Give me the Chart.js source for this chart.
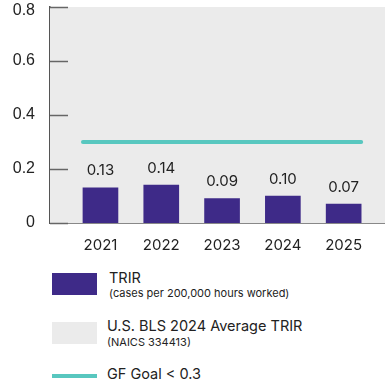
<!DOCTYPE html>
<html>
<head>
<meta charset="utf-8">
<script src="https://cdn.jsdelivr.net/npm/chart.js@4"></script>
<style>
  html, body { margin: 0; padding: 0; background: #fff; }
  #wrap { position: relative; width: 385px; height: 385px; overflow: hidden; font-family: Inter, "Noto Sans", sans-serif; color: #222; }
  #chartBox { position: absolute; left: 0; top: 0; width: 385px; height: 260px; }
  .sw { position: absolute; left: 52px; width: 45px; }
  .lbl { position: absolute; white-space: nowrap; line-height: 1; }
  .big { font-size: 14.5px; }
  .small { font-size: 11px; }
</style>
</head>
<body>
<div id="wrap">
  <div id="chartBox"><canvas id="trirChart" width="385" height="260"></canvas></div>

  <div class="sw" style="top:273px;height:22px;background:#3e2a88"></div>
  <div class="lbl big" style="left:109px;top:271px">TRIR</div>
  <div class="lbl small" style="left:109px;top:288px">(cases per 200,000 hours worked)</div>

  <div class="sw" style="top:322px;height:22px;background:#ebebeb"></div>
  <div class="lbl big" style="left:107px;top:319px">U.S. BLS 2024 Average TRIR</div>
  <div class="lbl small" style="left:107px;top:337px">(NAICS 334413)</div>

  <div class="sw" style="top:374px;height:4px;background:#58c7bf"></div>
  <div class="lbl big" style="left:107px;top:367px">GF Goal &lt; 0.3</div>
</div>

<script>
// Datos
const years = [2021, 2022, 2023, 2024, 2025];
const trir = [0.13, 0.14, 0.09, 0.10, 0.07];
const goal = 0.3;
const blsAverage = 0.9; // fuera de escala, rellena todo el fondo
const yTicks = [0, 0.2, 0.4, 0.6, 0.8];
const yMax = 0.8;

const isTop = v => Math.abs(v - yMax) < 1e-9;

// Fondo gris = promedio BLS (recortado al máximo del eje)
const blsBackground = {
    id: 'blsBackground',
    beforeDatasetsDraw(chart) {
        const { ctx, chartArea, scales } = chart;
        const y = scales.y;
        const top = y.getPixelForValue(Math.min(blsAverage, y.max));
        const bottom = y.getPixelForValue(0);
        ctx.save();
        ctx.fillStyle = '#ebebeb';
        ctx.fillRect(chartArea.left, top, chartArea.right - chartArea.left, bottom - top);
        // marcas hacia adentro del eje y
        ctx.strokeStyle = '#666';
        ctx.lineWidth = 1.5;
        yTicks.forEach(t => {
            const py = Math.round(y.getPixelForValue(t)) + 0.5;
            ctx.beginPath();
            ctx.moveTo(chartArea.left, py);
            ctx.lineTo(chartArea.left + 18, py);
            ctx.stroke();
        });
        ctx.restore();
    }
};

// Línea de meta y etiquetas de valor
const goalAndLabels = {
    id: 'goalAndLabels',
    afterDatasetsDraw(chart) {
        const { ctx, scales } = chart;
        const bars = chart.getDatasetMeta(0).data;
        const first = bars[0], last = bars[bars.length - 1];
        const gy = scales.y.getPixelForValue(goal);
        ctx.save();
        ctx.strokeStyle = '#58c7bf';
        ctx.lineWidth = 4;
        ctx.lineCap = 'round';
        ctx.beginPath();
        ctx.moveTo(first.x - first.width / 2, gy);
        ctx.lineTo(last.x + last.width / 2, gy);
        ctx.stroke();

        ctx.fillStyle = '#222';
        ctx.font = '15px Inter, "Noto Sans", sans-serif';
        ctx.textAlign = 'center';
        ctx.textBaseline = 'middle';
        bars.forEach((bar, i) => {
            ctx.fillText(trir[i].toFixed(2), bar.x, bar.y - 17);
        });
        ctx.restore();
    }
};

const trirChart = new Chart(document.getElementById('trirChart'), {
    type: 'bar',
    data: {
        labels: years,
        datasets: [{
            label: 'TRIR',
            data: trir,
            backgroundColor: '#3e2a88',
            barThickness: 35
        }]
    },
    options: {
        responsive: false,
        animation: false,
        layout: { padding: 0 },
        plugins: {
            legend: { display: false },
            tooltip: { enabled: false }
        },
        scales: {
            x: {
                type: 'linear',
                offset: false,
                min: 2020.17,
                max: 2025.68,
                grid: { display: false, drawTicks: false },
                border: { display: true, color: '#888', width: 2 },
                ticks: {
                    stepSize: 1,
                    includeBounds: false,
                    padding: 13,
                    color: '#222',
                    font: { family: 'Inter', size: 15 },
                    callback: v => Number.isInteger(v) ? String(v) : ''
                },
                afterFit: s => { s.height = 37; s.paddingLeft = 0; s.paddingRight = 0; }
            },
            y: {
                min: 0,
                max: yMax,
                grid: { display: false, drawTicks: false },
                border: { display: true, color: '#555', width: 1.5 },
                ticks: {
                    stepSize: 0.2,
                    padding: 15,
                    color: '#222',
                    // la etiqueta superior baja un poco para no cortarse
                    callback: v => isTop(v) ? ['', String(v)] : String(v),
                    font: c => ({
                        family: 'Liberation Sans',
                        size: 16,
                        lineHeight: (c.tick && isTop(c.tick.value)) ? '8px' : 1.2
                    })
                },
                afterFit: s => { s.width = 50; s.paddingTop = 7; s.paddingBottom = 0; }
            }
        }
    },
    plugins: [blsBackground, goalAndLabels]
});
</script>
</body>
</html>
